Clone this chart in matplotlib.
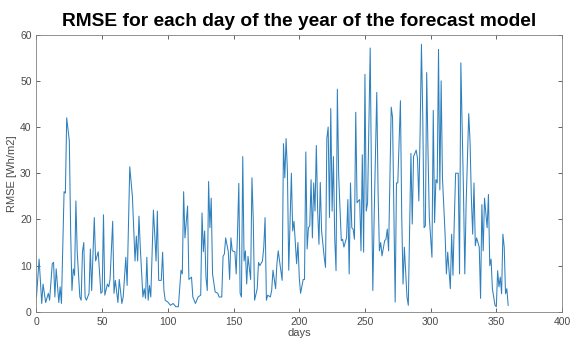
import matplotlib
matplotlib.use("Agg")
import matplotlib.pyplot as plt

plt.rcParams['font.family'] = ['Liberation Sans', 'DejaVu Sans']

# day index and RMSE
days = [0, 2, 4, 5, 7, 9, 10, 12, 13, 14, 15, 17, 18, 19, 21, 22, 23, 25, 26, 27,
        28, 29, 30, 31, 33, 34, 35, 36, 37, 38, 40, 41, 42, 44, 45, 47, 49, 50, 51, 52,
        54, 55, 56, 58, 59, 60, 62, 63, 65, 66, 68, 69, 71, 73, 75, 76, 77, 78, 79, 81,
        82, 83, 84, 85, 86, 87, 89, 90, 91, 92, 93, 95, 96, 97, 98, 100, 102, 104, 106, 108,
        110, 111, 112, 113, 115, 116, 118, 119, 121, 123, 125, 126, 127, 128, 129, 130, 131, 132, 133, 134,
        136, 138, 139, 141, 142, 143, 144, 146, 147, 148, 149, 151, 152, 153, 154, 155, 156, 157, 158, 159,
        160, 161, 163, 164, 165, 166, 168, 169, 170, 172, 173, 174, 175, 176, 178, 179, 180, 182, 183, 184,
        185, 187, 188, 189, 190, 191, 192, 194, 195, 196, 198, 199, 200, 201, 203, 204, 205, 206, 207, 208,
        209, 210, 211, 212, 213, 214, 215, 216, 217, 219, 220, 221, 222, 223, 224, 225, 226, 227, 228, 229,
        230, 232, 233, 234, 236, 237, 238, 239, 240, 241, 242, 243, 244, 245, 246, 247, 248, 249, 250, 251,
        252, 254, 255, 256, 257, 259, 260, 261, 262, 263, 265, 266, 267, 268, 270, 271, 273, 274, 275, 277,
        278, 279, 280, 282, 283, 285, 286, 287, 289, 290, 291, 292, 293, 294, 295, 296, 297, 298, 299, 301,
        302, 303, 304, 305, 306, 307, 308, 309, 311, 312, 313, 315, 316, 317, 318, 319, 321, 322, 323, 325,
        326, 327, 329, 330, 331, 332, 333, 334, 335, 337, 338, 339, 340, 341, 343, 344, 345, 346, 347, 349,
        350, 351, 352, 353, 354, 355, 356, 357, 358, 359]
rmse = [3.2, 11.4, 1.8, 6.0, 2.0, 4.0, 2.5, 10.4, 10.7, 3.2, 9.3, 2.0, 5.4, 1.8, 26.0, 25.7, 42.0, 37.0, 17.5, 4.6,
        9.3, 7.9, 24.0, 13.0, 3.2, 2.5, 13.0, 15.0, 3.2, 2.5, 4.0, 13.6, 4.6, 20.4, 11.0, 13.0, 4.0, 4.3, 21.0, 3.6,
        6.0, 5.4, 7.0, 19.6, 4.0, 6.8, 2.0, 7.0, 1.8, 3.2, 11.8, 5.7, 31.4, 25.0, 11.0, 16.4, 11.0, 20.7, 14.0, 3.2,
        5.0, 2.9, 11.8, 2.5, 5.7, 3.2, 22.0, 16.8, 11.0, 21.8, 6.8, 6.8, 12.9, 4.6, 2.5, 2.1, 1.4, 1.8, 1.1, 1.1,
        9.0, 8.2, 26.0, 16.0, 22.9, 7.0, 7.5, 3.2, 1.8, 3.2, 3.6, 21.4, 13.0, 17.5, 7.5, 4.6, 28.2, 18.2, 24.6, 8.2,
        4.3, 4.0, 3.2, 3.2, 12.0, 12.5, 16.0, 13.0, 7.0, 16.0, 13.2, 13.0, 8.2, 17.0, 27.8, 4.0, 3.2, 33.6, 11.0, 13.2,
        6.0, 12.0, 7.0, 29.0, 20.0, 2.5, 5.0, 10.7, 10.0, 11.0, 14.0, 20.4, 2.5, 3.6, 3.2, 4.6, 9.0, 5.0, 10.4, 13.2,
        11.0, 6.8, 36.4, 29.0, 37.5, 30.4, 9.0, 30.0, 17.5, 19.6, 10.4, 15.0, 7.5, 4.0, 7.0, 7.0, 34.6, 13.6, 18.2, 18.6,
        28.6, 16.0, 27.9, 21.8, 36.0, 22.0, 14.6, 28.0, 17.5, 11.8, 9.6, 37.5, 40.0, 20.4, 44.0, 21.8, 33.6, 16.0, 8.9, 48.2,
        29.6, 15.4, 15.7, 14.0, 16.0, 24.3, 8.2, 27.9, 18.2, 17.9, 15.7, 43.2, 23.6, 24.0, 24.3, 13.2, 34.0, 12.9, 51.4, 21.8,
        23.6, 57.1, 27.5, 4.6, 20.4, 47.5, 26.0, 13.2, 15.0, 12.1, 15.4, 15.7, 17.9, 13.2, 44.3, 42.1, 2.1, 27.9, 27.9, 45.7,
        20.7, 6.0, 14.0, 3.2, 1.4, 34.3, 19.0, 33.6, 35.0, 33.2, 24.0, 39.0, 57.9, 42.5, 18.2, 18.6, 51.8, 34.6, 20.4, 11.8,
        43.6, 19.3, 28.6, 27.9, 56.8, 26.4, 50.0, 29.0, 16.8, 8.2, 12.9, 5.0, 16.8, 7.9, 19.6, 30.0, 30.0, 8.2, 53.9, 26.0,
        8.2, 23.2, 42.9, 36.8, 24.6, 16.8, 27.9, 14.3, 16.0, 14.0, 2.9, 23.2, 13.2, 24.6, 18.2, 25.4, 10.0, 11.4, 5.0, 1.4,
        1.1, 8.9, 5.4, 7.5, 3.9, 16.8, 14.0, 3.9, 5.0, 1.4]

xticks = [0, 50, 100, 150, 200, 250, 300, 350, 400]
yticks = [0, 10, 20, 30, 40, 50, 60]

edge = '#262626'
txt = '#4a4a4a'

fig = plt.figure(figsize=(5.7, 3.43), dpi=100)
ax = fig.add_axes([0.064, 0.091, 0.922, 0.808])

ax.plot(days, rmse, color='#2f80bd', linewidth=0.75)

ax.set_xlim(0, 400)
ax.set_ylim(0, 60)
ax.set_xticks(xticks)
ax.set_yticks(yticks)
ax.tick_params(direction='in', length=3, width=0.5, colors=edge, labelsize=7.5,
               top=True, right=True, labelcolor=txt)
for s in ax.spines.values():
    s.set_linewidth(0.6)
    s.set_color('#808080')

ax.set_xlabel('days', fontsize=8, color=txt, labelpad=1)
ax.set_ylabel('RMSE [Wh/m2]', fontsize=8, color=txt, labelpad=2)
ax.set_title('RMSE for each day of the year of the forecast model',
             fontsize=13.8, fontweight='bold', color='black', pad=6)

fig.savefig('out.png', dpi=100)
